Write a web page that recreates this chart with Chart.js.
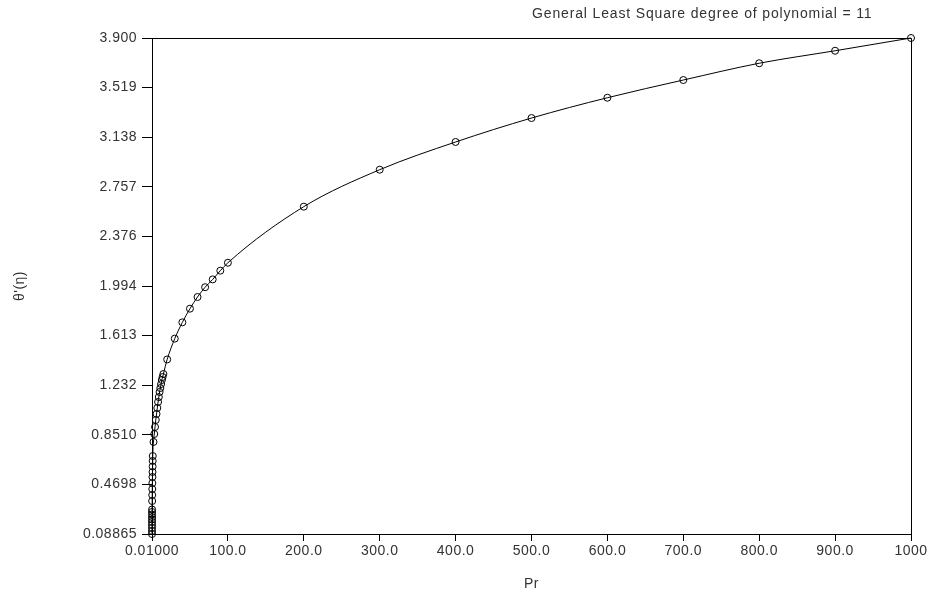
<!DOCTYPE html>
<html>
<head>
<meta charset="utf-8">
<script src="https://cdn.jsdelivr.net/npm/chart.js@4.4.0/dist/chart.umd.min.js"></script>
<style>
    html, body { margin: 0; padding: 0; background: #fff; }
    #wrap { position: relative; width: 935px; height: 600px; }
</style>
</head>
<body>
<div id="wrap"><canvas id="chart-fit" width="935" height="600"></canvas></div>
<script>
// Prandtl numbers and wall gradient values
const prValues = [
    0.01, 0.02, 0.03, 0.04, 0.05, 0.06, 0.07, 0.08, 0.09, 0.1,
    0.2, 0.3, 0.4, 0.5, 0.6, 0.7, 0.8, 0.9,
    1, 2, 3, 4, 5, 6, 7, 8, 9, 10, 11, 12, 13, 14, 15,
    20, 30, 40, 50, 60, 70, 80, 90, 100,
    200, 300, 400, 500, 600, 700, 800, 900, 1000,
];
const thetaValues = [
    0.08865, 0.112, 0.135, 0.158, 0.181, 0.200, 0.219, 0.239, 0.258, 0.277,
    0.342, 0.388, 0.434, 0.480, 0.527, 0.565, 0.607, 0.650,
    0.688, 0.796, 0.857, 0.911, 0.965, 1.011, 1.057, 1.103, 1.141, 1.180, 1.210, 1.241, 1.272, 1.295, 1.318,
    1.430, 1.590, 1.715, 1.820, 1.910, 1.985, 2.045, 2.112, 2.173,
    2.604, 2.888, 3.101, 3.285, 3.441, 3.577, 3.706, 3.802, 3.900,
];

const yTickValues = [0.08865, 0.4698, 0.8510, 1.232, 1.613, 1.994, 2.376, 2.757, 3.138, 3.519, 3.900];
const yTickLabels = ["0.08865", "0.4698", "0.8510", "1.232", "1.613", "1.994", "2.376", "2.757", "3.138", "3.519", "3.900"];
const xTickValues = [0.01, 100, 200, 300, 400, 500, 600, 700, 800, 900, 1000];
const xTickLabels = ["0.01000", "100.0", "200.0", "300.0", "400.0", "500.0", "600.0", "700.0", "800.0", "900.0", "1000"];

const TITLE_TEXT = "General Least Square degree of polynomial = 11";
const FONT_FAMILY = "'Liberation Sans', Arial, sans-serif";
const FONT_SIZE = 14;
const TEXT_COLOR = "#333";
const AXIS_SPACING = "0.5px";

// slightly open lettering on the axes; a canvas resize drops it, so set it before layout and draw
const spacingPlugin = {
    id: "spacing",
    beforeLayout(chart) {
        chart.ctx.letterSpacing = AXIS_SPACING;
    },
    beforeDraw(chart) {
        chart.ctx.letterSpacing = AXIS_SPACING;
    },
};

// top and right edges of the plot box, plus the caption line
const framePlugin = {
    id: "frame",
    beforeDatasetsDraw(chart) {
        const { ctx, chartArea } = chart;
        const left = Math.round(chartArea.left) + 0.5;
        const right = Math.round(chartArea.right) + 0.5;
        const top = Math.round(chartArea.top) + 0.5;
        const bottom = Math.round(chartArea.bottom) + 0.5;
        ctx.save();
        ctx.strokeStyle = "#000";
        ctx.lineWidth = 1;
        ctx.beginPath();
        ctx.moveTo(left, top);
        ctx.lineTo(right, top);
        ctx.lineTo(right, bottom);
        ctx.stroke();
        ctx.restore();
    },
    afterDraw(chart) {
        const { ctx } = chart;
        ctx.save();
        ctx.fillStyle = TEXT_COLOR;
        ctx.font = FONT_SIZE + "px " + FONT_FAMILY;
        ctx.letterSpacing = "0.85px";
        ctx.textAlign = "left";
        ctx.textBaseline = "middle";
        ctx.fillText(TITLE_TEXT, 532, 14);
        ctx.restore();
    },
};

const points = prValues.map((x, i) => ({ x, y: thetaValues[i] }));

new Chart(document.getElementById("chart-fit").getContext("2d"), {
    type: "scatter",
    data: {
        datasets: [
            {
                data: points,
                showLine: true,
                clip: false,
                borderColor: "#000",
                borderWidth: 1,
                cubicInterpolationMode: "monotone",
                pointRadius: 3.5,
                pointBorderWidth: 1,
                pointBorderColor: "#000",
                pointBackgroundColor: "rgba(255,255,255,0)",
            },
        ],
    },
    options: {
        responsive: false,
        animation: false,
        devicePixelRatio: 1,
        layout: { padding: { top: 38, right: 24, left: 0, bottom: 0 } },
        plugins: {
            legend: { display: false },
            tooltip: { enabled: false },
        },
        scales: {
            x: {
                type: "linear",
                min: 0.01,
                max: 1000,
                afterBuildTicks: (scale) => {
                    scale.ticks = xTickValues.map((v) => ({ value: v }));
                },
                afterFit: (scale) => {
                    scale.height = 66;
                },
                ticks: {
                    callback: (v, i) => xTickLabels[i],
                    autoSkip: false,
                    maxRotation: 0,
                    padding: 2,
                    color: TEXT_COLOR,
                    font: { family: FONT_FAMILY, size: FONT_SIZE },
                },
                grid: { drawOnChartArea: false, tickLength: 7, color: "#000" },
                border: { color: "#000", width: 1 },
                title: {
                    display: true,
                    text: "Pr",
                    color: TEXT_COLOR,
                    font: { family: FONT_FAMILY, size: FONT_SIZE },
                    padding: { top: 0, bottom: 7 },
                },
            },
            y: {
                type: "linear",
                min: 0.08865,
                max: 3.9,
                afterBuildTicks: (scale) => {
                    scale.ticks = yTickValues.map((v) => ({ value: v }));
                },
                afterFit: (scale) => {
                    scale.width = 152;
                },
                ticks: {
                    callback: (v, i) => yTickLabels[i],
                    autoSkip: false,
                    padding: 5,
                    color: TEXT_COLOR,
                    font: { family: FONT_FAMILY, size: FONT_SIZE },
                },
                grid: { drawOnChartArea: false, tickLength: 10, color: "#000" },
                border: { color: "#000", width: 1 },
                title: {
                    display: true,
                    text: "θ'(η)",
                    color: TEXT_COLOR,
                    font: { family: FONT_FAMILY, size: FONT_SIZE },
                    padding: { top: 12, bottom: 0 },
                },
            },
        },
    },
    plugins: [spacingPlugin, framePlugin],
});
</script>
</body>
</html>
